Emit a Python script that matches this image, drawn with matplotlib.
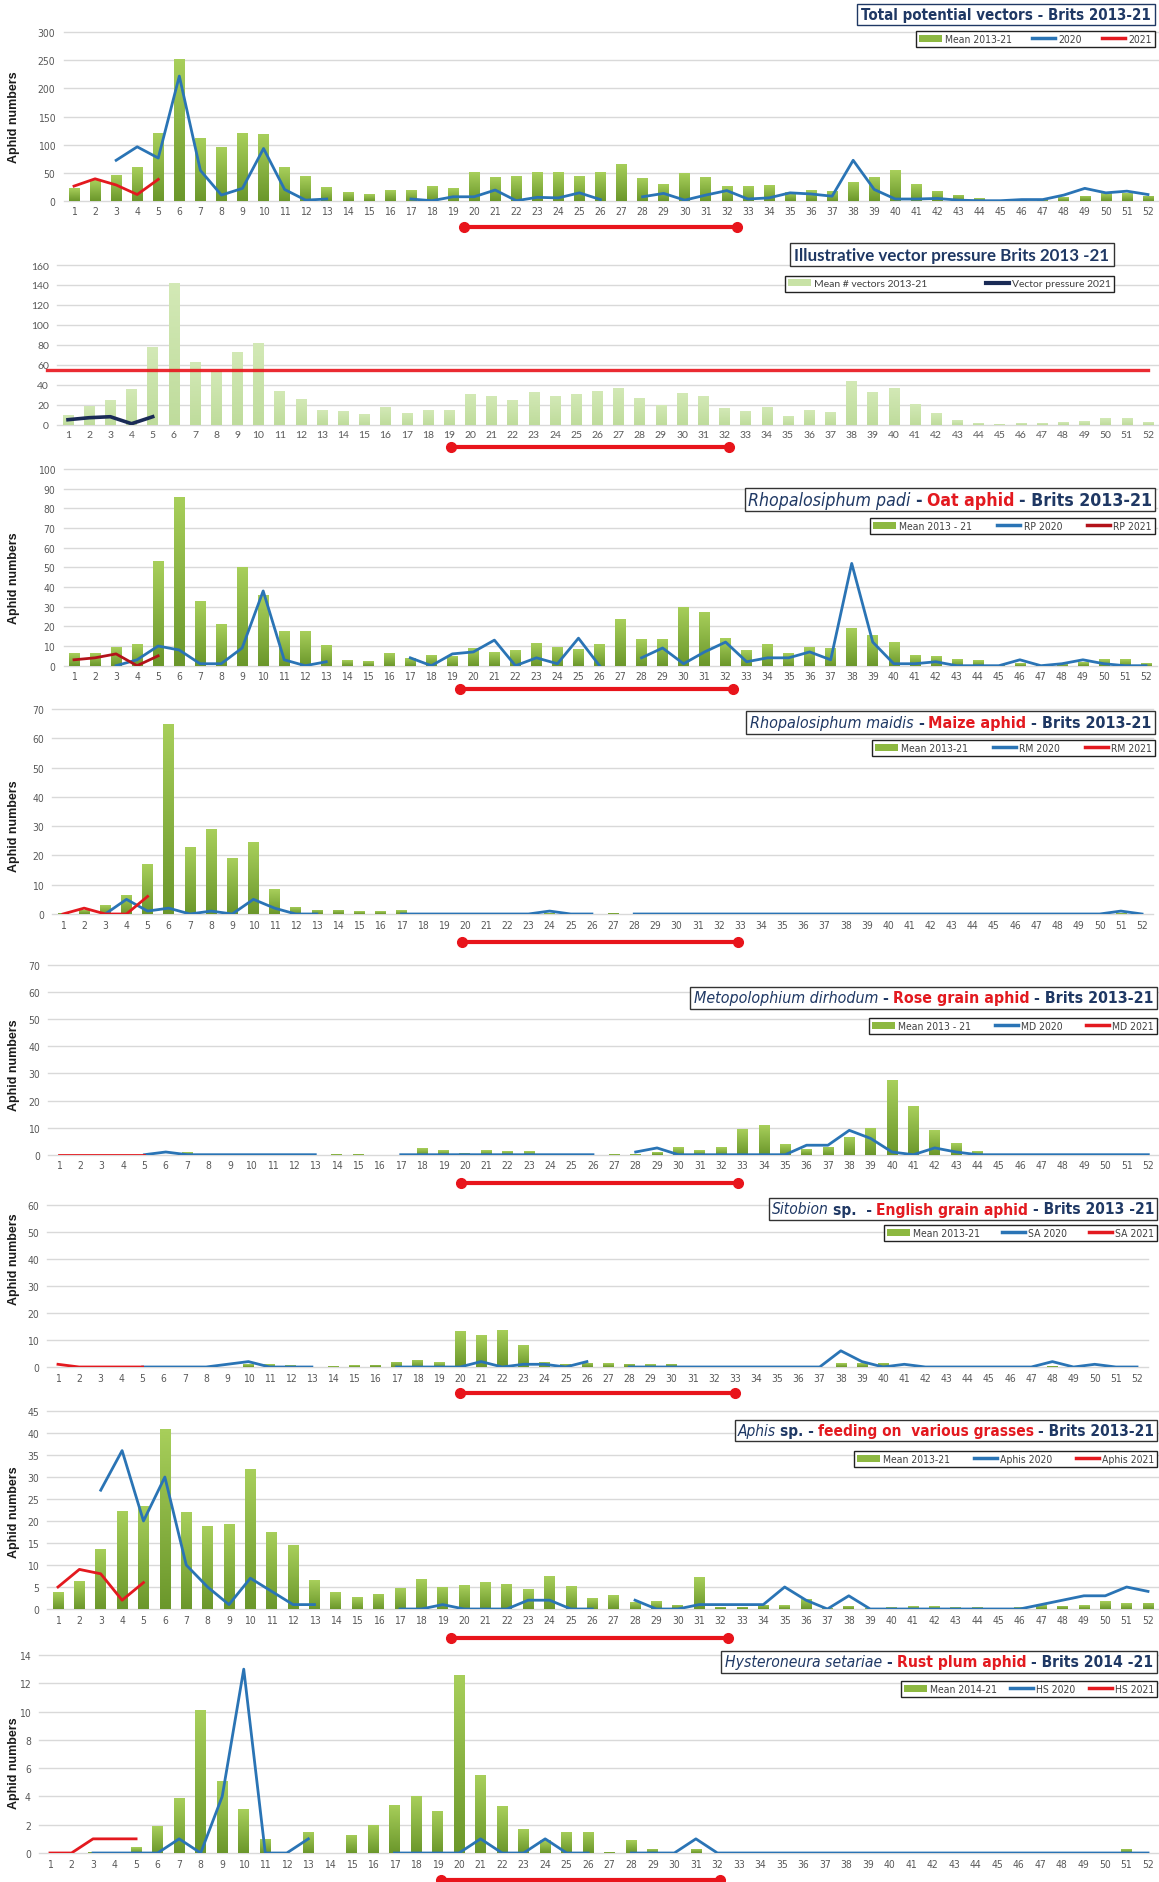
import numpy as np
import matplotlib
matplotlib.use("Agg")
import matplotlib.pyplot as plt
import matplotlib.transforms as mtransforms
from matplotlib.colors import LinearSegmentedColormap
from matplotlib.patches import Rectangle, Patch
from matplotlib.lines import Line2D
from matplotlib import font_manager
from matplotlib.font_manager import FontProperties

nan = np.nan
weeks = list(range(1, 53))
weeks_2021 = [1, 2, 3, 4, 5]

# ---------------- data ----------------
# Total potential vectors
tpv_mean = [22, 37, 46, 60, 120, 252, 111, 96, 120, 118,
            60, 44, 24, 15, 12, 19, 19, 26, 23, 51,
            43, 44, 51, 51, 44, 51, 66, 40, 30, 49,
            43, 26, 26, 28, 15, 19, 18, 34, 43, 54,
            30, 18, 11, 5, 2, 3, 3, 7, 9, 13,
            13, 9]
tpv_2020 = [nan, nan, 72, 96, 76, 222, 54, 10, 22, 93,
            20, 1, 3, nan, nan, nan, 3, 0, 7, 7,
            19, 0, 6, 5, 14, 2, nan, 7, 13, 1,
            10, 18, 3, 5, 14, 12, 8, 72, 20, 3,
            3, 4, 1, 0, 0, 2, 2, 10, 22, 14,
            17, 11]
tpv_2021 = [26, 39, 28, 11, 38]

# Illustrative vector pressure
vp_mean = [10, 19, 25, 36, 78, 142, 63, 54, 73, 82,
           34, 26, 15, 14, 11, 18, 12, 15, 15, 31,
           29, 25, 33, 29, 31, 34, 37, 27, 20, 32,
           29, 17, 14, 18, 9, 15, 13, 44, 33, 37,
           21, 12, 5, 2, 1, 2, 2, 3, 4, 7,
           7, 3]
vp_2021 = [5, 7, 8, 1, 8]
vp_threshold = 55

# Rhopalosiphum padi
rp_mean = [6.5, 6.5, 9.5, 11, 53, 86, 33, 21, 50, 36,
           17.5, 17.5, 10.5, 3, 2.5, 6.5, 4, 5.5, 5, 9,
           7, 8, 11.5, 9.5, 8.5, 11, 23.5, 13.5, 13.5, 30,
           27.5, 14, 8, 11, 6.5, 9.5, 9, 19, 15.5, 12,
           5.5, 5, 3.5, 3, 0.5, 1.5, 0.5, 1, 2, 3.5,
           3.5, 1.5]
rp_2020 = [nan, nan, 0, 3, 10, 8, 1, 1, 9, 38,
           3, 0, 2, nan, nan, nan, 4, 0, 6, 7,
           13, 0, 4, 1, 14, 0, nan, 4, 9, 1,
           7, 12, 2, 4, 4, 7, 3, 52, 12, 1,
           1, 2, 0, 0, 0, 3, 0, 1, 3, 1,
           0, 0]
rp_2021 = [3, 4, 6, 0, 5]

# Rhopalosiphum maidis
rm_mean = [0.5, 1.5, 3, 6.5, 17, 65, 23, 29, 19, 24.5,
           8.5, 2.5, 1.5, 1.5, 1, 1, 1.2, 0, 0, 0.4,
           0.4, 0, 0, 0.3, 0, 0, 0.4, 0, 0, 0,
           0, 0, 0, 0, 0, 0, 0, 0, 0, 0,
           0, 0, 0, 0, 0, 0, 0, 0, 0, 0,
           0.3, 0]
rm_2020 = [nan, nan, 0, 5, 1, 2, 0, 1, 0, 5,
           2, 0, 0, nan, nan, nan, 0, 0, 0, 0,
           0, 0, 0, 1, 0, 0, nan, 0, 0, 0,
           0, 0, 0, 0, 0, 0, 0, 0, 0, 0,
           0, 0, 0, 0, 0, 0, 0, 0, 0, 0,
           1, 0]
rm_2021 = [0, 2, 0, 0, 6]

# Metopolophium dirhodum
md_mean = [0, 0, 0, 0, 0, 0, 1, 0, 0, 0,
           0, 0, 0, 0.3, 0.3, 0, 0, 2.5, 1.8, 0.7,
           1.8, 1.2, 1.2, 0, 0, 0, 0.3, 0.3, 1, 2.7,
           1.8, 2.7, 9.5, 11, 4, 2, 3, 6.5, 10, 27.5,
           18, 9, 4.3, 1.2, 0, 0, 0, 0, 0, 0,
           0, 0]
md_2020 = [nan, nan, nan, nan, 0, 1, 0, 0, 0, 0,
           0, 0, 0, nan, nan, nan, 0, 0, 0, 0,
           0, 0, 0, 0, 0, 0, nan, 1, 2.5, 0,
           0, 0, 0, 0, 0, 3.5, 3.5, 9, 6, 1,
           0, 2.5, 1, 0, 0, 0, 0, 0, 0, 0,
           0, 0]
md_2021 = [0, 0, 0, 0, 0]

# Sitobion sp.
sa_mean = [0, 0, 0, 0, 0, 0, 0, 0, 0, 1,
           1, 0.7, 0, 0.3, 0.7, 0.8, 2, 2.7, 1.8, 13.5,
           11.8, 13.8, 8.2, 2, 1.2, 1.5, 1.3, 1.2, 1, 1.2,
           0, 0, 0, 0, 0, 0, 0, 1.3, 1.3, 1.5,
           0, 0, 0, 0, 0, 0, 0, 0.5, 0, 0,
           0, 0]
sa_2020 = [nan, nan, nan, nan, 0, 0, 0, 0, 1, 2,
           0, 0, 0, nan, nan, nan, 0, 0, 0, 0,
           2, 0, 1, 1, 0, 2, nan, 0, 0, 0,
           0, 0, 0, 0, 0, 0, 0, 6, 2, 0,
           1, 0, 0, 0, 0, 0, 0, 2, 0, 1,
           0, 0]
sa_2021 = [1, 0, 0, 0, 0]

# Aphis sp.
ap_mean = [3.8, 6.3, 13.7, 22.3, 23.5, 41, 22, 18.8, 19.3, 31.8,
           17.6, 14.5, 6.5, 3.8, 2.7, 3.5, 4.7, 6.8, 5.1, 5.4,
           6.1, 5.7, 4.5, 7.4, 5.2, 2.4, 3.1, 1.5, 1.8, 1,
           7.2, 0.5, 0.5, 1, 0.8, 2.3, 0.2, 0.7, 0.2, 0.4,
           0.6, 0.6, 0.4, 0.4, 0.2, 0.4, 0.8, 0.7, 0.9, 1.8,
           1.3, 1.4]
ap_2020 = [nan, nan, 27, 36, 20, 30, 10, 5, 1, 7,
           4, 1, 1, nan, nan, nan, 0, 0, 1, 0,
           0, 0, 2, 2, 0, 0, nan, 2, 0, 0,
           1, 1, 1, 1, 5, 2, 0, 3, 0, 0,
           0, 0, 0, 0, 0, 0, 1, 2, 3, 3,
           5, 4]
ap_2021 = [5, 9, 8, 2, 6]

# Hysteroneura setariae
hs_mean = [0, 0, 0.1, 0.1, 0.4, 1.9, 3.9, 10.1, 5.1, 3.1,
           1, 0, 1.5, 0, 1.3, 2, 3.4, 4, 3, 12.6,
           5.5, 3.3, 1.7, 0.9, 1.5, 1.5, 0.1, 0.9, 0.3, 0,
           0.3, 0, 0, 0, 0, 0, 0, 0, 0, 0,
           0, 0, 0, 0, 0, 0, 0, 0, 0, 0,
           0.3, 0]
hs_2020 = [nan, nan, 0, 0, 0, 0, 1, 0, 4, 13,
           0, 0, 1, nan, nan, nan, 0, 0, 0, 0,
           1, 0, 0, 1, 0, 0, nan, 0, 0, 0,
           1, 0, 0, 0, 0, 0, 0, 0, 0, 0,
           0, 0, 0, 0, 0, 0, 0, 0, 0, 0,
           0, 0]
hs_2021 = [0, 0, 1, 1, 1]

# ---------------- style ----------------
W, H = 1159, 1883
ttf = font_manager.fontManager.ttflist
avail = {f.name for f in ttf}
if "Liberation Sans Narrow" in avail:
    NARROW = dict(family="Liberation Sans Narrow", stretch="normal")
elif any(f.name == "DejaVu Sans" and str(f.stretch) in ("condensed", "semi-condensed") for f in ttf):
    NARROW = dict(family="DejaVu Sans", stretch="condensed")
else:
    NARROW = dict(family="Liberation Sans", stretch="normal")
CALF = "Lato" if "Lato" in avail else "DejaVu Sans"
CAL = dict(family=CALF, stretch="normal")
NAVY = "#1f3864"
RED = "#e3191f"
DKRED = "#b3121a"
BLUE = "#2a74b5"
PRESS = "#1a2b56"
GRID = "#d9d9d9"
TICKC = "#595959"
SEASON = "#e8141b"

fig = plt.figure(figsize=(W / 100, H / 100), dpi=100)
fig.patch.set_facecolor("white")


def add_ax(left, right, top, bottom):
    return fig.add_axes([left / W, 1 - bottom / H, (right - left) / W, (bottom - top) / H])


def gradient_bars(ax, x, h, c_top, c_bot, width=0.5):
    bars = ax.bar(x, h, width=width, color=c_bot, zorder=2, linewidth=0)
    cmap = LinearSegmentedColormap.from_list("g", [c_bot, c_top])
    grad = np.linspace(0, 1, 128).reshape(-1, 1)
    for b in bars:
        if b.get_height() <= 0:
            continue
        x0, y0 = b.get_x(), b.get_y()
        im = ax.imshow(grad, extent=[x0, x0 + b.get_width(), y0, y0 + b.get_height()],
                       origin="lower", cmap=cmap, aspect="auto", zorder=2.1,
                       interpolation="bilinear")
        im.set_clip_path(b)
    return bars


def rich_title(pieces, box, fkw, edge="#333333"):
    x0, y0, x1, y1 = box
    renderer = fig.canvas.get_renderer()
    f0 = 12.0
    texts = []
    for s, style, weight, color in pieces:
        t = fig.text(0, 0, s, fontsize=f0, fontstyle=style, fontweight=weight,
                     color=color, family=fkw["family"], fontstretch=fkw["stretch"],
                     ha="left", va="center")
        texts.append(t)

    def measure():
        ws = [t.get_window_extent(renderer).width for t in texts]
        hs = [t.get_window_extent(renderer).height for t in texts]
        return ws, max(hs)

    ws, hh = measure()
    gap = 0.28 * f0 * 100 / 72
    total = sum(ws) + gap * (len(ws) - 1)
    scale = min((x1 - x0 - 8) / total, (y1 - y0) * 0.92 / hh)
    f = f0 * scale
    for t in texts:
        t.set_fontsize(f)
    ws, hh = measure()
    gap = 0.28 * f * 100 / 72
    total = sum(ws) + gap * (len(ws) - 1)
    xs = (x0 + x1) / 2 - total / 2
    yc = H - (y0 + y1) / 2
    for t, w in zip(texts, ws):
        t.set_position((xs / W, yc / H))
        xs += w + gap
    fig.patches.append(Rectangle((x0 / W, 1 - y1 / H), (x1 - x0) / W, (y1 - y0) / H,
                                 transform=fig.transFigure, fill=True, facecolor="white",
                                 edgecolor=edge, linewidth=1.0, zorder=5))
    for t in texts:
        t.set_zorder(6)


def box_legend(handles, labels, box, fs=7.5, fkw=NARROW):
    x0, y0, x1, y1 = box
    prop = FontProperties(family=fkw["family"], stretch=fkw["stretch"], size=fs)
    leg = fig.legend(handles, labels, loc="upper left",
                     bbox_to_anchor=(x0 / W, 1 - y1 / H, (x1 - x0) / W, (y1 - y0) / H),
                     mode="expand", ncol=len(labels), fancybox=False, framealpha=1,
                     edgecolor="#222222", borderaxespad=0, handlelength=2.2,
                     handletextpad=0.3, borderpad=0.3, columnspacing=0.8,
                     prop=prop, labelcolor="#404040")
    leg.get_frame().set_linewidth(1.0)
    return leg


def style_axes(ax, ymax, ystep, fkw):
    ax.set_xlim(0.5, 52.5)
    ax.set_ylim(0, ymax)
    ax.set_xticks(weeks)
    ax.set_xticklabels([str(w) for w in weeks])
    ax.set_yticks(np.arange(0, ymax + ystep / 2, ystep))
    ax.grid(axis="y", color=GRID, lw=1.0)
    ax.grid(axis="x", visible=False)
    ax.set_axisbelow(True)
    for gl in ax.get_ygridlines():
        gl.set_clip_on(False)
    for s in ax.spines.values():
        s.set_visible(False)
    ax.tick_params(axis="both", length=0, colors=TICKC, labelsize=7.5)
    ax.tick_params(axis="x", pad=4)
    ax.tick_params(axis="y", pad=6)
    for lab in ax.get_xticklabels() + ax.get_yticklabels():
        lab.set_family(fkw["family"])
        lab.set_fontstretch(fkw["stretch"])
    ax.set_facecolor("none")


def season_bar(ax, xs, xe, ypx):
    tr = mtransforms.blended_transform_factory(ax.transData, fig.transFigure)
    ax.plot([xs, xe], [1 - ypx / H, 1 - ypx / H], transform=tr, color=SEASON, lw=3,
            marker="o", ms=7, clip_on=False, zorder=5, solid_capstyle="butt")


def ylabel(yc):
    fig.text(14 / W, 1 - yc / H, "Aphid numbers", rotation=90, fontweight="bold",
             fontsize=9, family="Liberation Sans", color="#1a1a1a",
             ha="center", va="center")


BAR_TOP, BAR_BOT = "#a8cf5b", "#6b972b"
LEG_BAR = "#8db841"

# ---------------- species panels ----------------
species = [
    dict(mean=tpv_mean, l20=tpv_2020, l21=tpv_2021, c21=RED, ymax=300, ystep=50,
         ax=(63.5, 1158.5, 33.3, 201.7), season=(19.5, 32.5, 228), ylab=117,
         title=[("Total potential vectors - Brits 2013-21", "normal", "bold", NAVY)],
         tbox=(857, 5, 1155, 26), tedge=NAVY,
         labels=["Mean 2013-21", "2020", "2021"], lbox=(916, 32, 1155, 50)),
    dict(mean=rp_mean, l20=rp_2020, l21=rp_2021, c21=DKRED, ymax=100, ystep=10,
         ax=(63.5, 1156.5, 470, 666.7), season=(19.35, 32.35, 690), ylab=578,
         title=[("Rhopalosiphum padi", "italic", "normal", NAVY), ("-", "normal", "bold", NAVY),
                ("Oat aphid", "normal", "bold", RED), ("- Brits 2013-21", "normal", "bold", NAVY)],
         tbox=(745, 489, 1155, 512), tedge="#333333",
         labels=["Mean 2013 - 21", "RP 2020", "RP 2021"], lbox=(870, 519, 1155, 538)),
    dict(mean=rm_mean, l20=rm_2020, l21=rm_2021, c21=RED, ymax=70, ystep=10,
         ax=(52.4, 1152.6, 710, 915), season=(19.85, 32.9, 943), ylab=826,
         title=[("Rhopalosiphum maidis", "italic", "normal", NAVY), ("-", "normal", "bold", NAVY),
                ("Maize aphid", "normal", "bold", RED), ("- Brits 2013-21", "normal", "bold", NAVY)],
         tbox=(746, 712, 1155, 735), tedge="#333333",
         labels=["Mean 2013-21", "RM 2020", "RM 2021"], lbox=(872, 741, 1155, 759)),
    dict(mean=md_mean, l20=md_2020, l21=md_2021, c21=RED, ymax=70, ystep=10,
         ax=(48.3, 1159.0, 966, 1155.7), season=(19.8, 32.8, 1184), ylab=1065,
         title=[("Metopolophium dirhodum", "italic", "normal", NAVY), ("-", "normal", "bold", NAVY),
                ("Rose grain aphid", "normal", "bold", RED), ("- Brits 2013-21", "normal", "bold", NAVY)],
         tbox=(690, 988, 1157, 1010), tedge="#333333",
         labels=["Mean 2013 - 21", "MD 2020", "MD 2021"], lbox=(869, 1019, 1157, 1037)),
    dict(mean=sa_mean, l20=sa_2020, l21=sa_2021, c21=RED, ymax=60, ystep=10,
         ax=(47.4, 1147.6, 1206, 1368), season=(20.0, 33.0, 1394), ylab=1259,
         title=[("Sitobion", "italic", "normal", NAVY), ("sp.  -", "normal", "bold", NAVY),
                ("English grain aphid", "normal", "bold", RED), ("- Brits 2013 -21", "normal", "bold", NAVY)],
         tbox=(769, 1199, 1157, 1221), tedge="#333333",
         labels=["Mean 2013-21", "SA 2020", "SA 2021"], lbox=(884, 1226, 1157, 1244)),
    dict(mean=ap_mean, l20=ap_2020, l21=ap_2021, c21=RED, ymax=45, ystep=5,
         ax=(47.3, 1158.7, 1412, 1610), season=(19.4, 32.35, 1639), ylab=1512,
         title=[("Aphis", "italic", "normal", NAVY), ("sp. -", "normal", "bold", NAVY),
                ("feeding on  various grasses", "normal", "bold", RED), ("- Brits 2013-21", "normal", "bold", NAVY)],
         tbox=(735, 1421, 1157, 1442), tedge="#333333",
         labels=["Mean 2013-21", "Aphis 2020", "Aphis 2021"], lbox=(854, 1452, 1157, 1471)),
    dict(mean=hs_mean, l20=hs_2020, l21=hs_2021, c21=RED, ymax=14, ystep=2,
         ax=(39.2, 1158.8, 1656, 1854), season=(19.15, 32.1, 1881), ylab=1763,
         title=[("Hysteroneura setariae", "italic", "normal", NAVY), ("-", "normal", "bold", NAVY),
                ("Rust plum aphid", "normal", "bold", RED), ("- Brits 2014 -21", "normal", "bold", NAVY)],
         tbox=(721, 1652, 1157, 1674), tedge="#333333",
         labels=["Mean 2014-21", "HS 2020", "HS 2021"], lbox=(901, 1682, 1157, 1700)),
]

for p in species:
    ax = add_ax(*p["ax"])
    gradient_bars(ax, weeks, p["mean"], BAR_TOP, BAR_BOT)
    ax.plot(weeks, p["l20"], color=BLUE, lw=2.0, zorder=3)
    ax.plot(weeks_2021, p["l21"], color=p["c21"], lw=2.0, zorder=4)
    style_axes(ax, p["ymax"], p["ystep"], NARROW)
    season_bar(ax, *p["season"])
    ylabel(p["ylab"])
    rich_title(p["title"], p["tbox"], NARROW, edge=p["tedge"])
    handles = [Patch(facecolor=LEG_BAR, edgecolor="none"),
               Line2D([], [], color=BLUE, lw=2.5),
               Line2D([], [], color=p["c21"], lw=2.5)]
    box_legend(handles, p["labels"], p["lbox"])

# ---------------- vector pressure panel ----------------
ax2 = add_ax(57.4, 1158.6, 266, 425.7)
gradient_bars(ax2, weeks, vp_mean, "#d3e9b6", "#bfdc9c")
ax2.plot(weeks_2021, vp_2021, color=PRESS, lw=2.6, zorder=4)
ax2.plot([0.0, 52.0], [vp_threshold, vp_threshold], color=SEASON, lw=2.4, alpha=0.9,
         zorder=3, clip_on=False)
style_axes(ax2, 160, 20, CAL)
season_bar(ax2, 19.1, 32.2, 448)
rich_title([("Illustrative vector pressure Brits 2013 -21", "normal", "bold", NAVY)],
           (790, 244, 1114, 267), CAL, edge="#333333")
box_legend([Patch(facecolor="#c8e2a6", edgecolor="none"), Line2D([], [], color=PRESS, lw=3)],
           ["Mean # vectors 2013-21", "Vector pressure 2021"], (785, 277, 1114, 297), fs=7.5, fkw=CAL)

fig.savefig("out.png", dpi=100, facecolor="white")
